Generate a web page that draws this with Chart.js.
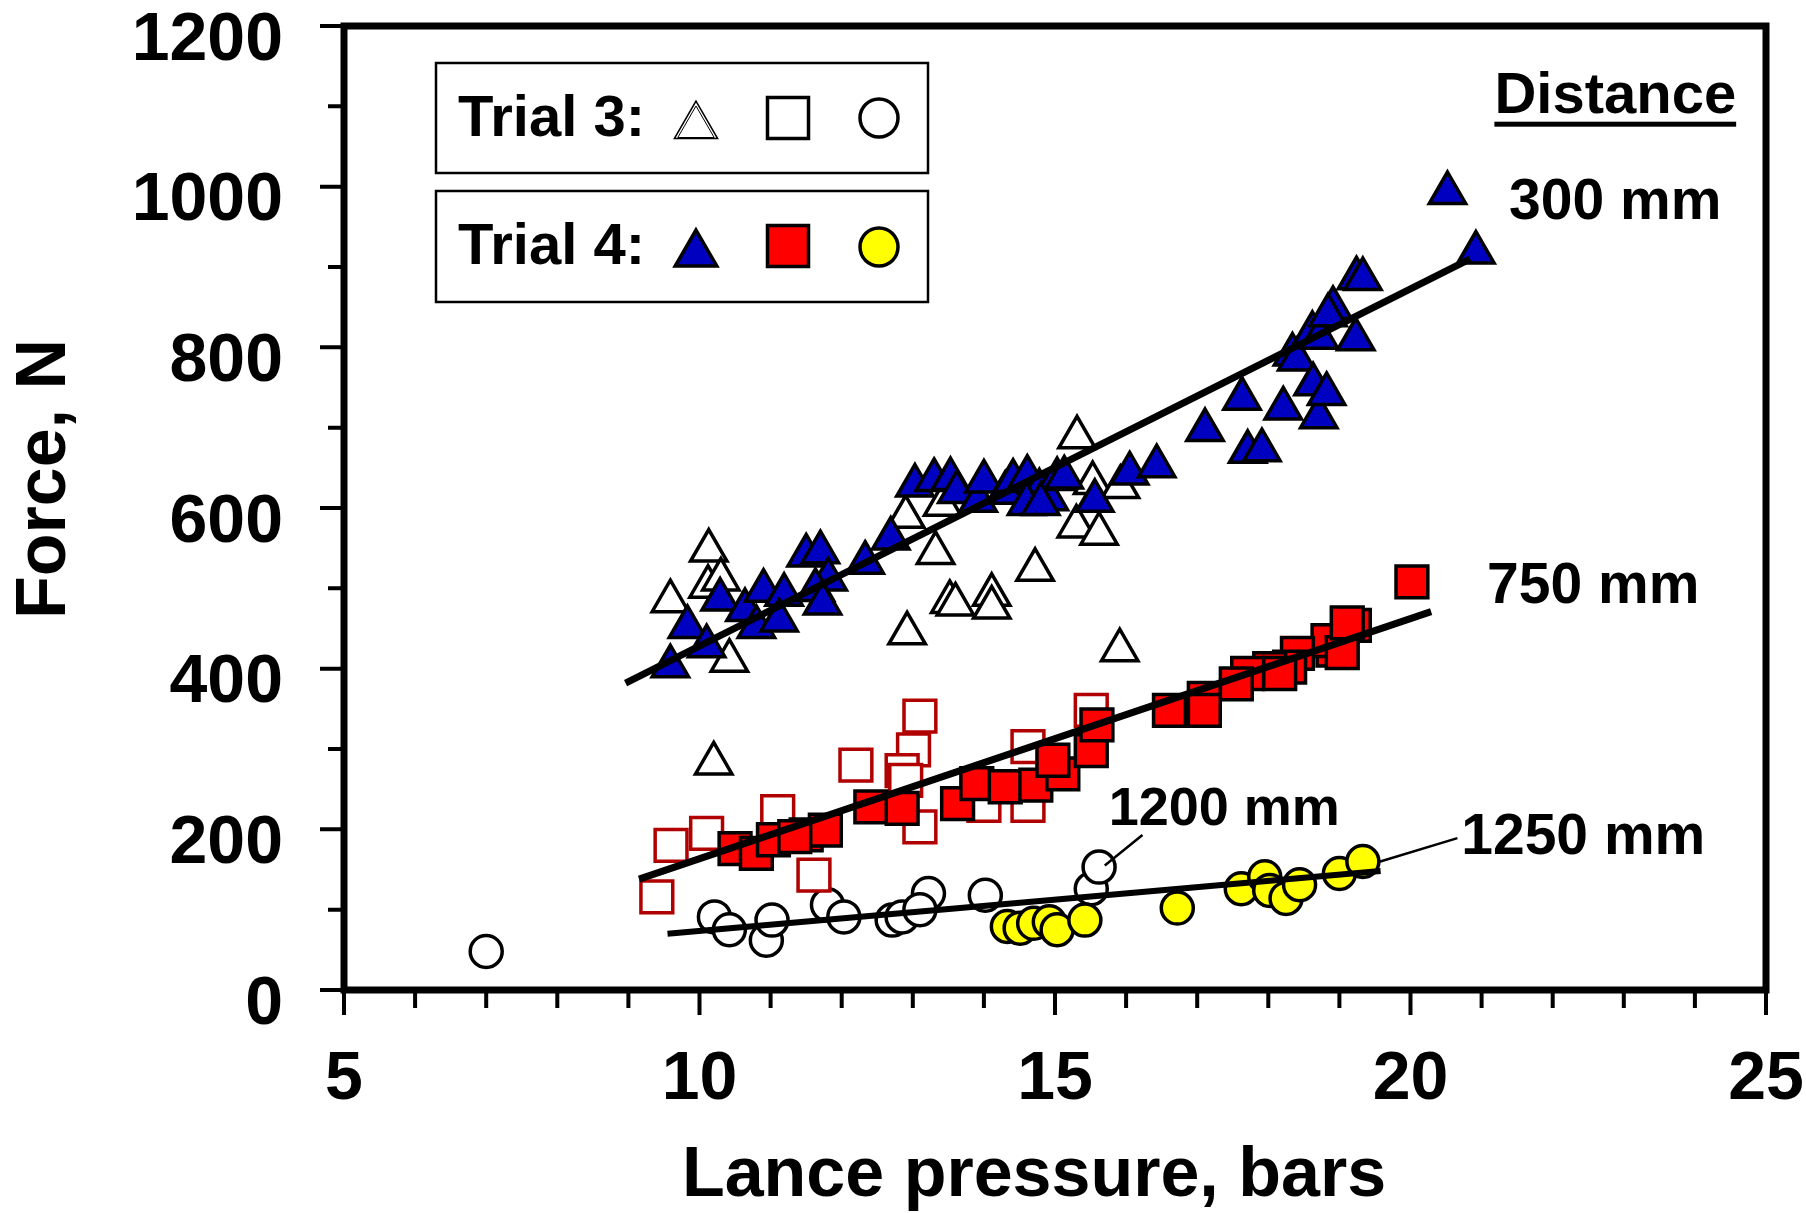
<!DOCTYPE html>
<html>
<head>
<meta charset="utf-8">
<script src="https://cdn.jsdelivr.net/npm/chart.js@4.4.1/dist/chart.umd.min.js"></script>
<style>
  html, body { margin: 0; padding: 0; background: #fff; }
  #wrap { width: 1806px; height: 1213px; }
</style>
</head>
<body>
<div id="wrap"><canvas id="chart" width="1806" height="1213"></canvas></div>
<script>
// axis ranges / ticks
const xMin = 5, xMax = 25, xMajorStep = 5, xMinorStep = 1;
const yMin = 0, yMax = 1200, yMajorStep = 200, yMinorStep = 100;

// Trial 3, 300 mm (open triangles)
const t3d300X = [9.59, 10.13, 10.12, 10.30, 10.42, 12.90, 13.42, 13.32, 12.92, 13.52, 13.60, 14.11, 14.11, 14.72, 15.31, 15.53, 15.30, 15.62, 15.92, 15.91, 10.20];
const t3d300Y = [484, 547, 502, 511, 410, 589, 604, 544, 444, 483, 480, 492, 476, 523, 688, 631, 577, 568, 626, 423, 282];

// Trial 4, 300 mm (blue triangles)
const t4d300X = [9.59, 9.83, 10.10, 10.29, 10.64, 10.80, 10.90, 11.19, 11.12, 11.50, 11.70, 11.81, 11.63, 11.73, 12.33, 12.69,
  13.03, 13.30, 13.53, 13.62, 13.92, 14.00, 14.30, 14.41, 14.61, 14.78, 14.92, 15.03, 15.13, 15.56, 14.60, 14.80, 16.05, 16.43,
  17.11, 17.63, 17.71, 17.91, 18.21, 18.34, 18.40, 18.63, 18.71, 18.82, 18.62, 18.72, 18.91, 18.84, 19.23, 19.24, 19.33, 20.52, 20.92];
const t4d300Y = [403, 452, 428, 486, 473, 452, 497, 492, 460, 541, 545, 511, 498, 481, 532, 562,
  628, 635, 636, 620, 609, 633, 619, 634, 639, 622, 611, 636, 638, 609, 605, 605, 643, 652,
  697, 736, 670, 672, 724, 791, 785, 754, 713, 742, 818, 812, 849, 840, 810, 886, 885, 992, 918];

// Trial 3, 750 mm (open squares)
const t3d750X = [9.40, 9.60, 10.10, 11.10, 11.61, 12.20, 13.10, 13.01, 12.85, 12.90, 13.10, 14.00, 14.62, 14.62, 15.51];
const t3d750Y = [116, 180, 195, 222, 143, 280, 341, 299, 273, 261, 203, 230, 230, 303, 348];

// Trial 4, 750 mm (red squares)
const t4d750X = [10.50, 10.80, 11.04, 11.50, 11.77, 11.34, 12.41, 12.85, 13.63, 13.90, 14.30, 14.73, 15.11, 14.97, 15.51, 15.59,
  16.61, 20.02, 19.21, 18.91, 18.84, 18.41, 18.30, 18.02, 17.71, 17.55, 17.10, 17.10, 18.16, 19.04, 19.11];
const t4d750Y = [176, 170, 187, 193, 199, 191, 228, 226, 232, 257, 253, 255, 269, 286, 298, 330,
  348, 508, 454, 423, 435, 419, 402, 400, 394, 381, 363, 348, 394, 420, 457];

// Trial 3, 1200 mm (open circles)
const t3d1200X = [7.0, 10.21, 10.42, 10.94, 11.02, 11.80, 12.03, 12.71, 12.85, 13.22, 13.10, 14.02, 15.51, 15.62];
const t3d1200Y = [48, 91, 75, 62, 87, 106, 91, 87, 91, 120, 100, 118, 126, 153];

// Trial 4, 1250 mm (yellow circles)
const t4d1250X = [14.33, 14.51, 14.70, 14.92, 15.03, 15.42, 16.72, 17.62, 17.95, 18.02, 18.25, 18.44, 19.00, 19.33];
const t4d1250Y = [79, 77, 83, 85, 75, 87, 102, 126, 141, 124, 114, 131, 145, 160];

// fitted lines (end points)
const fit300X = [8.96, 20.84];
const fit300Y = [382, 910];
const fit750X = [9.15, 20.29];
const fit750Y = [138, 471];
const fitLowX = [9.55, 19.58];
const fitLowY = [70, 148];

// annotation labels (data coordinates)
const distLabels = ['300 mm', '750 mm', '1200 mm', '1250 mm'];
const distLabelX = [22.88, 22.57, 17.38, 22.43];
const distLabelY = [979, 501, 224, 189];
const leader1200X = [15.70, 16.23];
const leader1200Y = [155, 193];
const leader1250X = [19.54, 20.66];
const leader1250Y = [159, 189];

const FONT = "'Liberation Sans', Arial, sans-serif";

const pts = (xs, ys) => xs.map((x, i) => ({ x: x, y: ys[i] }));

const fitLine = (xs, ys, w) => ({
  data: pts(xs, ys),
  showLine: true,
  borderColor: '#000',
  borderWidth: w,
  pointRadius: 0,
  order: 0
});

const datasets = [
  fitLine(fit300X, fit300Y, 7),
  fitLine(fit750X, fit750Y, 7),
  fitLine(fitLowX, fitLowY, 6),
  { data: pts(t4d300X, t4d300Y), pointStyle: 'triangle', pointRadius: 21, backgroundColor: '#0000C0', borderColor: '#000', borderWidth: 3.5, order: 1 },
  { data: pts(t4d750X, t4d750Y), pointStyle: 'rect', pointRadius: 22.5, backgroundColor: '#FF0000', borderColor: '#000', borderWidth: 3.5, order: 1 },
  { data: pts(t4d1250X, t4d1250Y), pointStyle: 'circle', pointRadius: 16, backgroundColor: '#FFFF00', borderColor: '#000', borderWidth: 3.5, order: 1 },
  { data: pts(t3d300X, t3d300Y), pointStyle: 'triangle', pointRadius: 21, backgroundColor: '#fff', borderColor: '#000', borderWidth: 3.5, order: 2 },
  { data: pts(t3d750X, t3d750Y), pointStyle: 'rect', pointRadius: 22.5, backgroundColor: '#fff', borderColor: '#B00000', borderWidth: 3.5, order: 2 },
  { data: pts(t3d1200X, t3d1200Y), pointStyle: 'circle', pointRadius: 16, backgroundColor: '#fff', borderColor: '#000', borderWidth: 3.5, order: 2 }
];

function marker(ctx, style, r, x, y, fill, stroke, lw) {
  ctx.save();
  ctx.fillStyle = fill;
  ctx.strokeStyle = stroke;
  ctx.lineWidth = lw;
  Chart.helpers.drawPoint(ctx, { pointStyle: style, radius: r, borderWidth: lw }, x, y);
  ctx.restore();
}

const decorations = {
  id: 'decorations',
  afterDraw(chart) {
    const ctx = chart.ctx;
    const xs = chart.scales.x, ys = chart.scales.y;
    const a = chart.chartArea;
    ctx.save();

    // plot frame
    ctx.strokeStyle = '#000';
    ctx.lineWidth = 7;
    ctx.strokeRect(a.left, a.top, a.right - a.left, a.bottom - a.top);

    // tick marks, outside
    ctx.lineWidth = 4;
    ctx.beginPath();
    for (let v = yMin; v <= yMax; v += yMinorStep) {
      const py = ys.getPixelForValue(v);
      const len = v % yMajorStep === 0 ? 24 : 16;
      ctx.moveTo(a.left - len, py);
      ctx.lineTo(a.left, py);
    }
    for (let v = xMin; v <= xMax; v += xMinorStep) {
      const px = xs.getPixelForValue(v);
      const len = v % xMajorStep === 0 ? 25 : 18;
      ctx.moveTo(px, a.bottom);
      ctx.lineTo(px, a.bottom + len);
    }
    ctx.stroke();

    // legend boxes
    ctx.lineWidth = 2.5;
    ctx.strokeRect(436, 63, 492, 110);
    ctx.strokeRect(436, 191, 492, 111);
    ctx.fillStyle = '#000';
    ctx.font = 'bold 58px ' + FONT;
    ctx.textAlign = 'left';
    ctx.textBaseline = 'middle';
    ctx.fillText('Trial 3:', 458, 120);
    ctx.fillText('Trial 4:', 458, 248);
    marker(ctx, 'triangle', 25, 696, 126, '#fff', '#000', 1.5);
    marker(ctx, 'triangle', 21, 696, 127, '#fff', '#000', 1);
    marker(ctx, 'rect', 29, 788, 118, '#fff', '#000', 3.5);
    marker(ctx, 'circle', 19, 879, 118, '#fff', '#000', 3.5);
    marker(ctx, 'triangle', 24, 696, 254, '#0000C0', '#000', 3.5);
    marker(ctx, 'rect', 29, 788, 246, '#FF0000', '#000', 3.5);
    marker(ctx, 'circle', 19, 879, 247, '#FFFF00', '#000', 3.5);

    // distance labels
    ctx.fillStyle = '#000';
    ctx.textAlign = 'center';
    ctx.font = 'bold 58px ' + FONT;
    const dx = xs.getPixelForValue(22.88), dy = ys.getPixelForValue(1112);
    ctx.fillText('Distance', dx, dy);
    const dw = ctx.measureText('Distance').width;
    ctx.fillRect(dx - dw / 2, dy + 25, dw, 5);
    distLabels.forEach((t, i) => {
      ctx.font = 'bold ' + (i === 2 ? 54 : 57) + 'px ' + FONT;
      ctx.fillText(t, xs.getPixelForValue(distLabelX[i]), ys.getPixelForValue(distLabelY[i]));
    });
    ctx.lineWidth = 2.5;
    ctx.beginPath();
    ctx.moveTo(xs.getPixelForValue(leader1200X[0]), ys.getPixelForValue(leader1200Y[0]));
    ctx.lineTo(xs.getPixelForValue(leader1200X[1]), ys.getPixelForValue(leader1200Y[1]));
    ctx.moveTo(xs.getPixelForValue(leader1250X[0]), ys.getPixelForValue(leader1250Y[0]));
    ctx.lineTo(xs.getPixelForValue(leader1250X[1]), ys.getPixelForValue(leader1250Y[1]));
    ctx.stroke();

    // axis titles
    ctx.font = 'bold 70px ' + FONT;
    ctx.fillText('Lance pressure, bars', 1034, 1177);
    ctx.translate(46, 479);
    ctx.rotate(-Math.PI / 2);
    ctx.fillText('Force, N', 0, 0);
    ctx.restore();
  }
};

new Chart(document.getElementById('chart'), {
  type: 'scatter',
  data: { datasets: datasets },
  options: {
    responsive: false,
    animation: false,
    layout: { padding: { left: 0, top: 25, right: 40, bottom: 0 } },
    plugins: { legend: { display: false }, tooltip: { enabled: false } },
    scales: {
      x: {
        type: 'linear', min: xMin, max: xMax,
        grid: { display: false, drawTicks: false },
        border: { display: false },
        ticks: { stepSize: xMajorStep, padding: 49, color: '#000', callback: v => String(v),
          font: { family: FONT, size: 68, weight: 'bold' } },
        afterFit: s => { s.height = 223; s.paddingLeft = 0; s.paddingRight = 0; }
      },
      y: {
        type: 'linear', min: yMin, max: yMax,
        grid: { display: false, drawTicks: false },
        border: { display: false },
        ticks: { stepSize: yMajorStep, padding: 61, labelOffset: 15, color: '#000', callback: v => String(v),
          font: { family: FONT, size: 68, weight: 'bold' } },
        afterFit: s => { s.width = 344; s.paddingTop = 0; s.paddingBottom = 0; }
      }
    }
  },
  plugins: [decorations]
});
</script>
</body>
</html>
